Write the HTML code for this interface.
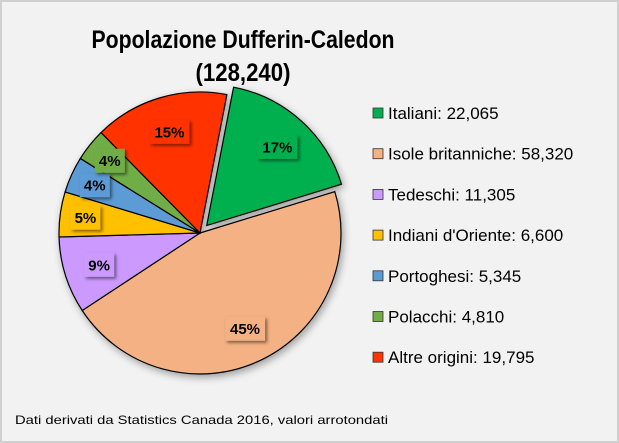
<!DOCTYPE html>
<html><head><meta charset="utf-8"><style>
html,body{margin:0;padding:0;background:#fff}
svg{display:block;font-family:"Liberation Sans",sans-serif}
</style></head><body>
<svg width="619" height="443" viewBox="0 0 619 443">
<defs>
<filter id="sh" x="-20%" y="-20%" width="140%" height="140%"><feGaussianBlur in="SourceAlpha" stdDeviation="4"/><feOffset dx="2" dy="3"/><feComponentTransfer><feFuncA type="linear" slope="0.35"/></feComponentTransfer><feMerge><feMergeNode/><feMergeNode in="SourceGraphic"/></feMerge></filter>
<filter id="ls" x="-20%" y="-20%" width="150%" height="160%"><feGaussianBlur in="SourceAlpha" stdDeviation="1.5"/><feOffset dx="2" dy="2"/><feComponentTransfer><feFuncA type="linear" slope="0.5"/></feComponentTransfer><feMerge><feMergeNode/><feMergeNode in="SourceGraphic"/></feMerge></filter>
</defs>
<rect x="1" y="1" width="617" height="441" fill="#f2f2f2" stroke="#d0d0d0" stroke-width="2"/>
<text x="243" y="48" text-anchor="middle" font-size="25" font-weight="bold" textLength="303" lengthAdjust="spacingAndGlyphs">Popolazione Dufferin-Caledon</text>
<text x="243" y="81" text-anchor="middle" font-size="25" font-weight="bold" textLength="95" lengthAdjust="spacingAndGlyphs">(128,240)</text>
<g id="pie" filter="url(#sh)"></g>
<g id="labels"></g>
<g id="legend"></g>
<text x="15" y="424" font-size="12" fill="#000" textLength="373" lengthAdjust="spacingAndGlyphs">Dati derivati da Statistics Canada 2016, valori arrotondati</text>
</svg>
<script>
const categories=["Italiani","Isole britanniche","Tedeschi","Indiani d'Oriente","Portoghesi","Polacchi","Altre origini"];
const values=[22065,58320,11305,6600,5345,4810,19795];
const valueLabels=["22,065","58,320","11,305","6,600","5,345","4,810","19,795"];
const colors=["#00b050","#f4b183","#cc99ff","#ffc000","#5b9bd5","#70ad47","#ff3300"];
const explode=[10,0,0,0,0,0,0];
const NS="http://www.w3.org/2000/svg";
const cx=200,cy=233,r=141,start=11;
const total=values.reduce((a,b)=>a+b,0);
const pie=document.getElementById('pie'),labels=document.getElementById('labels'),legend=document.getElementById('legend');
function pt(a,rad,ox,oy){const t=a*Math.PI/180;return [ox+rad*Math.sin(t),oy-rad*Math.cos(t)];}
let acc=start;
values.forEach((v,i)=>{
  const sweep=v/total*360,mid=acc+sweep/2;
  const [ox,oy]=pt(mid,explode[i],cx,cy);
  const [x1,y1]=pt(acc,r,ox,oy),[x2,y2]=pt(acc+sweep,r,ox,oy);
  const p=document.createElementNS(NS,'path');
  p.setAttribute('d',`M${ox},${oy}L${x1},${y1}A${r},${r} 0 ${sweep>180?1:0} 1 ${x2},${y2}Z`);
  p.setAttribute('fill',colors[i]);p.setAttribute('stroke','#000');p.setAttribute('stroke-width','1.2');
  
  
  pie.appendChild(p);
  const pct=Math.round(v/total*100)+'%';
  const lr=sweep>180?0.55*r:(sweep<30?0.82*r:0.75*r);
  const [lx,ly]=pt(mid,lr,ox,oy);
  const g=document.createElementNS(NS,'g');
  
  
  const w=pct.length>2?40:30;
  const b=document.createElementNS(NS,'rect');
  b.setAttribute('x',lx-w/2);b.setAttribute('y',ly-12);b.setAttribute('width',w);b.setAttribute('height',24);
  b.setAttribute('fill',colors[i]);b.setAttribute('filter','url(#ls)');
  const t=document.createElementNS(NS,'text');
  t.setAttribute('x',lx);t.setAttribute('y',ly+5.5);t.setAttribute('text-anchor','middle');
  t.setAttribute('font-size','15');t.setAttribute('font-weight','bold');
  t.textContent=pct;
  g.appendChild(b);g.appendChild(t);labels.appendChild(g);
  acc+=sweep;
});
categories.forEach((c,i)=>{
  const y=113+i*40.7;
  const g=document.createElementNS(NS,'g');
  
  
  const s=document.createElementNS(NS,'rect');
  s.setAttribute('x',373);s.setAttribute('y',y-5);s.setAttribute('width',10);s.setAttribute('height',10);
  s.setAttribute('fill',colors[i]);s.setAttribute('stroke','#333');s.setAttribute('stroke-width','0.8');
  const t=document.createElementNS(NS,'text');
  t.setAttribute('x',388);t.setAttribute('y',y+6);t.setAttribute('font-size','17');
  t.textContent=c+': '+valueLabels[i];
  g.appendChild(s);g.appendChild(t);legend.appendChild(g);
});
</script>
</body></html>
